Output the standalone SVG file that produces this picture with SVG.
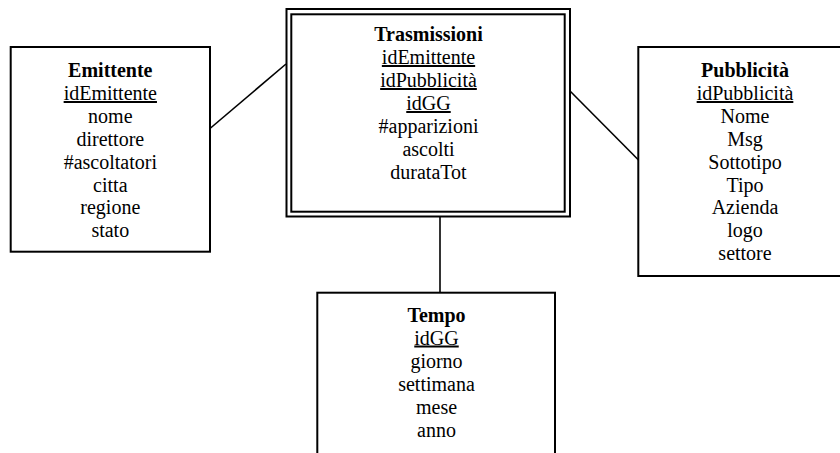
<svg xmlns="http://www.w3.org/2000/svg" width="840" height="453" viewBox="0 0 840 453">
<style>
.box{fill:#fff;stroke:#000;stroke-width:2}
.conn{stroke:#000;stroke-width:1.6;fill:none}
text{font-family:"Liberation Serif","Times New Roman",serif;font-size:20px;fill:#000;text-anchor:middle}
.t{font-weight:bold}
.k{text-decoration:underline}
</style>
<rect width="840" height="453" fill="#fff"/>
<g id="connectors">
<line class="conn" x1="210" y1="128.5" x2="286" y2="64"/>
<line class="conn" x1="570.5" y1="91.5" x2="638.5" y2="160"/>
<line class="conn" x1="440" y1="216.5" x2="440" y2="292.5"/>
</g>
<g id="trasmissioni">
<rect class="box" x="286.5" y="9" width="283.5" height="207.5"/>
<rect class="box" x="291.3" y="14.3" width="273.4" height="197.4"/>
<text class="t" x="428.5" y="41">Trasmissioni</text>
<text class="k" x="428.5" y="64">idEmittente</text>
<text class="k" x="428.5" y="87">idPubblicità</text>
<text class="k" x="428.5" y="110">idGG</text>
<text x="428.5" y="133">#apparizioni</text>
<text x="428.5" y="156">ascolti</text>
<text x="428.5" y="179">durataTot</text>
</g>
<g id="emittente">
<rect class="box" x="10.7" y="47" width="199.3" height="204.7"/>
<text class="t" x="110.3" y="77">Emittente</text>
<text class="k" x="110.3" y="100">idEmittente</text>
<text x="110.3" y="123">nome</text>
<text x="110.3" y="146">direttore</text>
<text x="110.3" y="168.5">#ascoltatori</text>
<text x="110.3" y="191.5">citta</text>
<text x="110.3" y="214">regione</text>
<text x="110.3" y="237">stato</text>
</g>
<g id="pubblicita">
<rect class="box" x="638.3" y="47" width="214" height="229"/>
<text class="t" x="745" y="77">Pubblicità</text>
<text class="k" x="745" y="100">idPubblicità</text>
<text x="745" y="123">Nome</text>
<text x="745" y="146">Msg</text>
<text x="745" y="168.5">Sottotipo</text>
<text x="745" y="191.5">Tipo</text>
<text x="745" y="214">Azienda</text>
<text x="745" y="237">logo</text>
<text x="745" y="260">settore</text>
</g>
<g id="tempo">
<rect class="box" x="317.3" y="292.7" width="237.7" height="180"/>
<text class="t" x="436.5" y="321.5">Tempo</text>
<text class="k" x="436.5" y="344.5">idGG</text>
<text x="436.5" y="367.5">giorno</text>
<text x="436.5" y="390.5">settimana</text>
<text x="436.5" y="413.5">mese</text>
<text x="436.5" y="436.5">anno</text>
</g>
</svg>
